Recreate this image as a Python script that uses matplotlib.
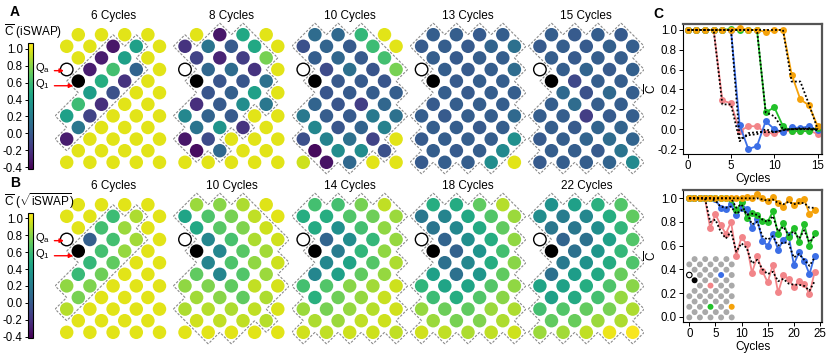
import matplotlib
matplotlib.use('Agg')
import matplotlib.pyplot as plt
import numpy as np
from matplotlib.patches import Circle
from matplotlib.collections import LineCollection
from matplotlib import colors, cm

plt.rcParams['font.family'] = ['Liberation Sans', 'DejaVu Sans']
plt.rcParams['mathtext.fontset'] = 'custom'
plt.rcParams['mathtext.rm'] = 'Liberation Sans'
plt.rcParams['mathtext.it'] = 'Liberation Sans:italic'
plt.rcParams['mathtext.bf'] = 'Liberation Sans:bold'
plt.rcParams['axes.unicode_minus'] = False

# ---------------- data ----------------
Y = 1.0
N = None
ROW_COLS = [[2, 4, 6, 8], [1, 3, 5, 7, 9], [2, 4, 6, 8], [1, 3, 5, 7, 9],
            [2, 4, 6, 8], [3, 5, 7, 9], [2, 4, 6, 8], [1, 3, 5, 7, 9],
            [2, 4, 6, 8], [1, 3, 5, 7, 9], [2, 4, 6, 8], [1, 3, 5, 7, 9]]
QA = (3, 1)
Q1 = (4, 2)

titles_A = ["6 Cycles", "8 Cycles", "10 Cycles", "13 Cycles", "15 Cycles"]
titles_B = ["6 Cycles", "10 Cycles", "14 Cycles", "18 Cycles", "22 Cycles"]

A_6 = [[Y, Y, Y, Y], [Y, Y, -0.33, 0.42, Y], [Y, -0.3, 0.42, Y], [N, -0.3, 0.62, 0.05, Y],
       [N, 0.5, -0.2, Y], [0.4, -0.05, Y, Y], [0.6, -0.22, Y, Y], [0.42, -0.12, Y, Y, Y],
       [0.17, Y, Y, Y], [-0.3, Y, Y, Y, Y], [Y, Y, Y, Y], [Y, Y, Y, Y, Y]]
A_8 = [[Y, -0.33, 0.47, Y], [-0.2, 0.15, 0.0, 0.47, Y], [-0.12, -0.27, -0.15, 0.76],
       [N, 0.07, 0.1, -0.2, Y], [N, -0.02, -0.02, 0.13], [-0.03, 0.03, 0.42, Y],
       [-0.22, 0.0, 0.3, 0.17], [0.27, 0.05, 0.0, Y, Y], [0.15, 0.35, -0.2, Y],
       [-0.33, -0.08, Y, Y, Y], [-0.37, 0.08, Y, Y], [Y, Y, Y, Y, Y]]
A_10 = [[0.1, 0.08, 0.57, Y], [-0.05, 0.05, 0.0, 0.6, Y], [0.02, 0.07, 0.0, 0.62],
        [N, -0.08, 0.12, -0.03, 0.76], [N, -0.01, 0.0, -0.02], [-0.03, 0.0, 0.01, 0.02],
        [0.05, -0.03, -0.15, 0.07], [0.18, 0.01, 0.0, 0.18, 0.13], [0.27, -0.02, 0.05, 0.23],
        [-0.06, 0.24, 0.13, -0.12, Y], [-0.38, 0.3, 0.3, -0.05], [0.95, -0.35, 0.08, Y, Y]]
A_13 = [[0.02, 0.02, 0.0, 0.02], [0.0, 0.02, 0.0, 0.05, 0.12], [0.02, 0.0, 0.02, 0.02],
        [N, 0.02, 0.0, 0.02, 0.1], [N, 0.0, 0.02, 0.02], [0.02, 0.0, 0.02, 0.02],
        [0.0, 0.02, 0.02, 0.02], [0.02, 0.0, 0.02, 0.02, 0.08], [0.02, 0.02, 0.0, 0.02],
        [0.0, 0.02, 0.02, 0.02, 0.32], [0.02, 0.0, 0.02, 0.28], [0.0, 0.02, 0.02, 0.3, Y]]
A_15 = [[0.02, 0.0, 0.02, 0.0], [0.0, 0.02, 0.0, 0.03, 0.02], [0.02, 0.0, 0.02, 0.02],
        [N, 0.02, 0.05, 0.0, 0.03], [N, -0.1, 0.02, 0.02], [0.08, -0.05, 0.08, 0.02],
        [0.02, 0.1, 0.02, 0.02], [0.02, 0.02, -0.15, 0.0, 0.02], [0.02, 0.0, 0.05, 0.05],
        [0.0, 0.02, 0.05, 0.1, 0.05], [0.02, 0.02, 0.0, 0.15], [0.0, 0.02, 0.02, 0.05, 0.28]]

B_6 = [[Y, Y, Y, Y], [Y, Y, 0.6, 0.88, Y], [Y, 0.62, 0.84, Y], [N, 0.03, 0.62, 0.86, Y],
       [N, 0.62, 0.83, Y], [0.57, 0.7, Y, Y], [0.58, 0.74, Y, Y], [0.82, 0.78, Y, Y, Y],
       [0.76, Y, Y, Y], [0.9, Y, Y, Y, Y], [Y, Y, Y, Y], [Y, Y, Y, Y, Y]]
B_10 = [[0.84, 0.8, 0.88, 0.99], [0.45, 0.65, 0.76, 0.92, Y], [0.47, 0.68, 0.78, 0.95],
        [N, 0.27, 0.63, 0.88, 0.96], [N, 0.27, 0.68, 0.86], [0.25, 0.65, 0.82, 0.95],
        [0.7, 0.26, 0.66, 0.84], [0.82, 0.78, 0.7, 0.93, 0.97], [0.86, 0.8, 0.7, 0.88],
        [0.88, 0.9, 0.88, 0.92, 0.98], [0.96, 0.92, 0.92, 0.9], [Y, Y, Y, Y, Y]]
B_14 = [[0.62, 0.62, 0.76, 0.92], [0.5, 0.5, 0.66, 0.74, 0.84], [0.48, 0.32, 0.62, 0.82],
        [N, 0.06, 0.3, 0.57, 0.83], [N, 0.2, 0.56, 0.82], [0.27, 0.45, 0.67, 0.88],
        [0.26, 0.42, 0.7, 0.83], [0.62, 0.66, 0.8, 0.86, 0.95], [0.52, 0.74, 0.83, 0.94],
        [0.84, 0.76, 0.83, 0.9, 0.96], [0.88, 0.84, 0.92, 0.95], [0.96, 0.92, 0.95, 0.95, 0.92]]
B_18 = [[0.5, 0.49, 0.7, 0.9], [0.17, 0.25, 0.47, 0.66, 0.84], [0.16, 0.27, 0.48, 0.7],
        [N, 0.05, 0.31, 0.5, 0.82], [N, 0.04, 0.35, 0.62], [0.12, 0.27, 0.5, 0.8],
        [0.42, 0.13, 0.36, 0.7], [0.55, 0.45, 0.45, 0.67, 0.82], [0.6, 0.5, 0.66, 0.8],
        [0.83, 0.73, 0.7, 0.84, 0.88], [0.84, 0.76, 0.78, 0.88], [0.96, 0.92, 0.88, 0.92, 0.95]]
B_22 = [[0.33, 0.42, 0.52, 0.66], [0.3, 0.2, 0.27, 0.5, 0.7], [0.17, 0.17, 0.31, 0.55],
        [N, 0.05, 0.13, 0.42, 0.66], [N, 0.12, 0.36, 0.57], [0.18, 0.33, 0.49, 0.65],
        [0.12, 0.4, 0.47, 0.72], [0.45, 0.43, 0.5, 0.65, 0.8], [0.42, 0.48, 0.62, 0.83],
        [0.62, 0.66, 0.71, 0.76, 0.88], [0.7, 0.72, 0.84, 0.88], [0.84, 0.86, 0.92, 1.02, 1.05]]

CONE_6 = [(1, 5), (1, 7), (2, 4), (2, 6), (3, 3), (3, 5), (3, 7), (4, 2), (4, 4), (4, 6),
          (5, 3), (5, 5), (6, 2), (6, 4), (7, 1), (7, 3), (8, 2), (9, 1)]
OUT_8 = [(0, 2), (0, 8), (1, 9), (3, 9), (5, 9), (7, 7), (7, 9), (8, 8), (9, 5), (9, 7),
         (9, 9), (10, 6), (10, 8), (11, 1), (11, 3), (11, 5), (11, 7), (11, 9)]
OUT_10 = [(0, 8), (1, 9), (9, 9), (11, 1), (11, 7), (11, 9)]
OUT_13 = [(11, 9)]

# panel C data
cyc_top = list(range(16))
top_pink = [1, 1, 1, 1, 0.29, 0.26, -0.02, 0.03, 0.03, -0.04, -0.04, -0.02, -0.02, -0.02, -0.01, -0.05]
top_blue = [1, 1, 1, 1, 1, 1, 0.04, -0.2, -0.17, 0.08, 0.0, -0.03, 0.02, 0.01, 0.03, -0.01]
top_green = [1, 1, 1, 1, 1, 1.01, 1, 1, 1, 0.17, 0.22, 0.03, -0.02, -0.02, -0.02, 0.01]
top_orange = [1, 1, 1, 1, 1, 1, 1.02, 1, 1, 0.98, 1, 1, 0.55, 0.30, 0.24, 0.03]
top_pink_sim = [1, 1, 1, 1, 0.25, 0.25, -0.12, -0.04, -0.03, -0.03, -0.03, -0.01, 0.0, 0.0, 0.0, -0.01]
top_blue_sim = [1, 1, 1, 1, 1, 1, -0.1, -0.06, -0.05, 0.0, -0.03, -0.01, 0.0, 0.01, 0.0, 0.0]
top_green_sim = [1, 1, 1, 1, 1, 1, 1, 1, 1, 0.17, 0.13, 0.0, 0.0, 0.0, 0.01, 0.0]
top_orange_sim = [1, 1, 1, 1, 1, 1, 1, 1, 1, 1, 1, 1, 0.48, 0.48, 0.25, 0.0]

cyc_bot = list(range(25))
bot_orange = [1, 1, 1, 1, 1, 1, 1, 1, 1, 1, 1, 1.01, 1, 1.04, 1, 0.98, 1.01, 0.96, 0.93, 0.99,
              0.94, 0.98, 0.99, 0.87, 0.9]
bot_pink = [1, 1, 1, 1, 0.75, 0.865, 0.775, 0.70, 0.80, 0.515, 0.675, 0.61, 0.37, 0.51, 0.385,
            0.29, 0.44, 0.205, 0.35, 0.32, 0.25, 0.30, 0.28, 0.19, 0.38]
bot_blue = [1, 1, 1, 1, 1, 0.99, 0.92, 0.91, 0.95, 0.855, 0.915, 0.91, 0.745, 0.825, 0.64,
            0.60, 0.695, 0.565, 0.65, 0.69, 0.44, 0.545, 0.47, 0.36, 0.515]
bot_green = [1, 1, 1, 1, 1, 1, 1, 1, 0.99, 0.9, 0.965, 0.835, 0.875, 0.86, 0.81, 0.80, 0.89,
             0.70, 0.79, 0.675, 0.75, 0.635, 0.78, 0.60, 0.705]
bot_pink_sim = [1, 1, 1, 1, 0.8, 0.82, 0.72, 0.66, 0.72, 0.55, 0.62, 0.58, 0.45, 0.48, 0.40,
                0.36, 0.38, 0.30, 0.32, 0.28, 0.27, 0.27, 0.26, 0.22, 0.30]
bot_blue_sim = [1, 1, 1, 1, 1, 0.98, 0.93, 0.92, 0.93, 0.87, 0.9, 0.88, 0.78, 0.8, 0.68, 0.65,
                0.68, 0.6, 0.63, 0.62, 0.5, 0.53, 0.48, 0.43, 0.5]
bot_green_sim = [1, 1, 1, 1, 1, 1, 1, 1, 1, 0.92, 0.95, 0.86, 0.87, 0.86, 0.82, 0.8, 0.85,
                 0.72, 0.76, 0.69, 0.72, 0.66, 0.73, 0.63, 0.68]
bot_orange_sim = [1, 1, 1, 1, 1, 1, 1, 1, 1, 1, 1, 1, 1, 1, 0.99, 0.98, 0.99, 0.96, 0.95, 0.97,
                  0.95, 0.96, 0.96, 0.92, 0.92]

probe_pos = [(5, 5), (3, 7), (9, 5), (9, 9)]
series_colors = ['#f28589', '#3b6ee6', '#22c12a', '#f5a20a']

# ---------------- figure ----------------
W, H = 830, 353
fig = plt.figure(figsize=(8.3, 3.53), dpi=100)
cmap = plt.get_cmap('viridis')
norm = colors.Normalize(vmin=-0.42, vmax=1.065)
RAD = 0.58


def ax_px(x0, y0, w, h):
    return fig.add_axes([x0 / W, 1 - (y0 + h) / H, w / W, h / H])


ALL = [(r, c) for r, cols in enumerate(ROW_COLS) for c in cols if (r, c) != QA]

U = 11.6
X0 = [66.7 + 118.3 * i for i in range(5)]
Y0 = [34.7, 204.7]


def draw_grid(ax, vals, region):
    region = set(region)
    for r, cols in enumerate(ROW_COLS):
        for k, c in enumerate(cols):
            if (r, c) == QA:
                ax.add_patch(Circle((c, r), RAD - 0.04, fc='white', ec='black', lw=1.0, zorder=3))
            elif (r, c) == Q1:
                ax.add_patch(Circle((c, r), RAD, fc='black', ec='none', zorder=3))
            else:
                ax.add_patch(Circle((c, r), RAD, fc=cmap(norm(vals[r][k])), ec='none', zorder=2))
    segs = []
    for (r, c) in region:
        if (r - 1, c + 1) not in region:
            segs.append([(c, r - 1), (c + 1, r)])
        if (r + 1, c + 1) not in region:
            segs.append([(c + 1, r), (c, r + 1)])
        if (r + 1, c - 1) not in region:
            segs.append([(c, r + 1), (c - 1, r)])
        if (r - 1, c - 1) not in region:
            segs.append([(c - 1, r), (c, r - 1)])
    lc = LineCollection(segs, colors='#8a8a8a', linewidths=0.8, linestyles=[(0, (2.2, 1.4))], zorder=1)
    ax.add_collection(lc)
    ax.set_xlim(0, 10)
    ax.set_ylim(12.2, -1.2)
    ax.axis('off')


panels_A = [A_6, A_8, A_10, A_13, A_15]
panels_B = [B_6, B_10, B_14, B_18, B_22]
regions_A = [CONE_6, [p for p in ALL if p not in OUT_8], [p for p in ALL if p not in OUT_10],
             [p for p in ALL if p not in OUT_13], ALL]
regions_B = [CONE_6, [p for p in ALL if p not in OUT_10], ALL, ALL, ALL]

for row, (panels, regions, titles) in enumerate([(panels_A, regions_A, titles_A),
                                                  (panels_B, regions_B, titles_B)]):
    for i in range(5):
        ax = ax_px(X0[i] - U, Y0[row] - 1.2 * U, 10 * U, 13.4 * U)
        draw_grid(ax, panels[i], regions[i])
        fig.text((X0[i] + 4 * U) / W, 1 - (Y0[row] - 18.5) / H, titles[i], ha='center',
                 va='center', fontsize=8.5)
        if i == 0:
            ax.annotate('', xy=(1.0, 3.1), xytext=(-0.3, 3.1),
                        arrowprops=dict(arrowstyle='-|>', color='red', lw=1.0, mutation_scale=6),
                        zorder=6)
            ax.annotate('', xy=(1.8, 4.4), xytext=(-0.3, 4.4),
                        arrowprops=dict(arrowstyle='-|>', color='red', lw=1.0, mutation_scale=6),
                        zorder=6)
            ax.text(-0.45, 2.85, r'Q$_\mathrm{a}$', ha='right', va='center', fontsize=8)
            ax.text(-0.45, 4.25, r'Q$_1$', ha='right', va='center', fontsize=8)

    # colorbar
    cy0 = [43.3, 212.8][row]
    cax = ax_px(28.3, cy0, 5, 125.5)
    sm = cm.ScalarMappable(norm=norm, cmap=cmap)
    cb = fig.colorbar(sm, cax=cax, ticks=[-0.4, -0.2, 0.0, 0.2, 0.4, 0.6, 0.8, 1.0])
    cb.ax.yaxis.set_ticks_position('left')
    cb.ax.yaxis.set_label_position('left')
    cb.ax.set_yticklabels(['%.1f' % t for t in [-0.4, -0.2, 0.0, 0.2, 0.4, 0.6, 0.8, 1.0]])
    cb.ax.tick_params(labelsize=8.3, length=2.5, width=0.7, pad=1.5)
    cb.outline.set_linewidth(0.8)
    lbl = [r'$\overline{\mathrm{C}}$ (iSWAP)', r'$\overline{\mathrm{C}}$ ($\sqrt{\mathrm{iSWAP}}$)'][row]
    fig.text(4 / W, 1 - [32, 201][row] / H, lbl, ha='left', va='center', fontsize=8.5)

# panel letters
fig.text(10 / W, 1 - 12 / H, 'A', fontsize=10, fontweight='bold', ha='left', va='center')
fig.text(10 / W, 1 - 183 / H, 'B', fontsize=10, fontweight='bold', ha='left', va='center')
fig.text(653 / W, 1 - 14 / H, 'C', fontsize=10, fontweight='bold', ha='left', va='center')


def style_c(ax):
    for s in ['left', 'bottom']:
        ax.spines[s].set_linewidth(0.8)
        ax.spines[s].set_color('black')
    for s in ['top', 'right']:
        ax.spines[s].set_linewidth(1.6)
        ax.spines[s].set_color('#555555')
    ax.tick_params(labelsize=8.3, length=3, width=0.7, pad=1.5)
    ax.set_ylabel(r'$\overline{\mathrm{C}}$', fontsize=8.5)
    ax.yaxis.set_label_coords(-0.17, 0.5)
    ax.set_xlabel('Cycles', fontsize=8.5)


# top C
axc1 = ax_px(683, 24, 139, 130)
for y, col in zip([top_pink, top_blue, top_green, top_orange], series_colors):
    axc1.plot(cyc_top, y, '-o', color=col, ms=5, lw=1.3, mec='none', zorder=2)
for y in [top_pink_sim, top_blue_sim, top_green_sim, top_orange_sim]:
    axc1.plot(cyc_top, y, color='black', lw=1.3, ls=(0, (1, 1.2)), zorder=3)
axc1.set_xlim(-0.54, 15.5)
axc1.set_ylim(-0.25, 1.06)
axc1.set_xticks([0, 5, 10, 15])
axc1.set_yticks([-0.2, 0.0, 0.2, 0.4, 0.6, 0.8, 1.0])
axc1.set_yticklabels(['%.1f' % t for t in [-0.2, 0.0, 0.2, 0.4, 0.6, 0.8, 1.0]])
style_c(axc1)
axc1.xaxis.set_label_coords(0.5, -0.15)

# bottom C
axc2 = ax_px(683, 190, 139, 131.7)
for y, col in zip([bot_pink, bot_blue, bot_green, bot_orange], series_colors):
    axc2.plot(cyc_bot, y, '-o', color=col, ms=5, lw=1.3, mec='none', zorder=2)
for y in [bot_pink_sim, bot_blue_sim, bot_green_sim, bot_orange_sim]:
    axc2.plot(cyc_bot, y, color='black', lw=1.3, ls=(0, (1, 1.2)), zorder=3)
axc2.set_xlim(-1.2, 25.4)
axc2.set_ylim(-0.042, 1.07)
axc2.set_xticks([0, 5, 10, 15, 20, 25])
axc2.set_yticks([0.0, 0.2, 0.4, 0.6, 0.8, 1.0])
axc2.set_yticklabels(['%.1f' % t for t in [0.0, 0.2, 0.4, 0.6, 0.8, 1.0]])
style_c(axc2)
axc2.xaxis.set_label_coords(0.5, -0.15)

# inset grid
u2 = 5.3
axi = ax_px(689.3 - u2, 259.1 - 1.2 * u2, 10 * u2, 13.4 * u2)
for r, cols in enumerate(ROW_COLS):
    for c in cols:
        if (r, c) == QA:
            axi.add_patch(Circle((c, r), 0.52, fc='white', ec='black', lw=0.8, zorder=3))
        elif (r, c) == Q1:
            axi.add_patch(Circle((c, r), 0.56, fc='black', ec='none', zorder=3))
        elif (r, c) in probe_pos:
            axi.add_patch(Circle((c, r), 0.56, fc=series_colors[probe_pos.index((r, c))],
                                 ec='none', zorder=3))
        else:
            axi.add_patch(Circle((c, r), 0.56, fc='#a9a9a9', ec='none', zorder=2))
axi.set_xlim(0, 10)
axi.set_ylim(12.2, -1.2)
axi.axis('off')

fig.savefig('out.png', dpi=100)
